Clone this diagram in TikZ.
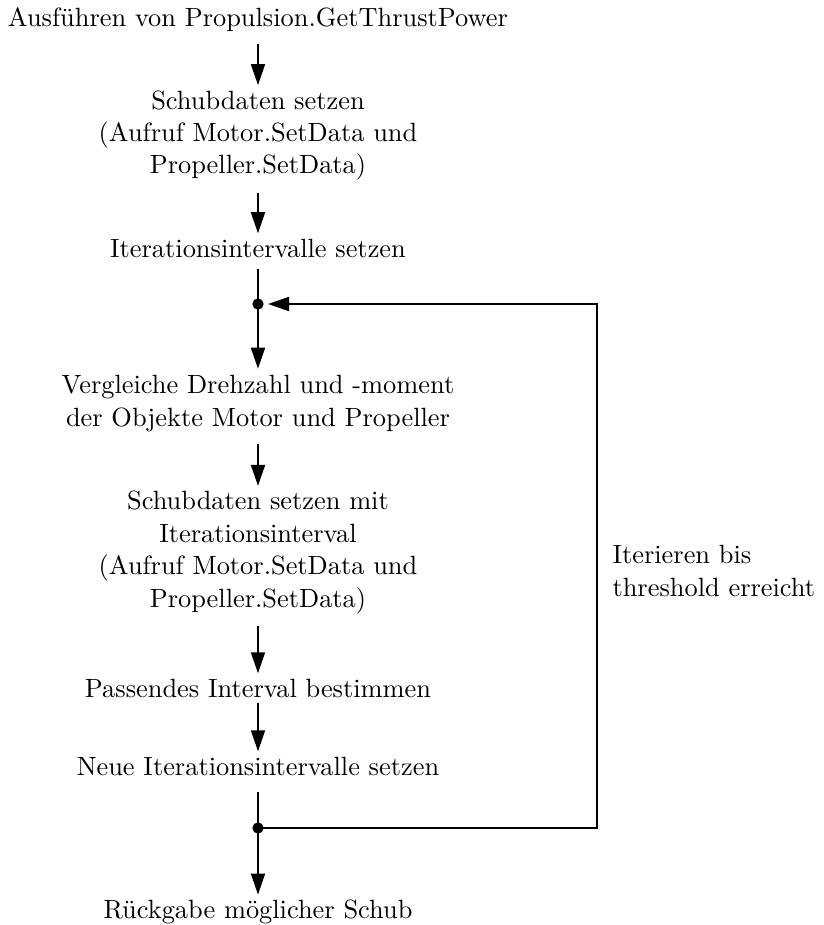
\documentclass[tikz,border=0pt]{standalone}
\usetikzlibrary{arrows.meta}
\begin{document}
\begin{tikzpicture}[x=0.37037pt,y=-0.37037pt,
  font=\fontsize{9.77pt}{12pt}\selectfont,
  stepnode/.style={align=center,inner sep=0pt,outer sep=0pt},
  flow/.style={line width=0.65pt,-{Triangle[length=7.8pt,width=5.2pt]}},
  plain/.style={line width=0.65pt},
  dot/.style={circle,fill=black,inner sep=0pt,minimum size=4.2pt}]
\useasboundingbox (0,0) rectangle (824,925);

% process steps
\node[stepnode] (n1) at (258,20) {Ausführen von Propulsion.GetThrustPower};
\node[stepnode] (n2) at (258,135.5) {Schubdaten setzen\\(Aufruf Motor.SetData und\\Propeller.SetData)};
\node[stepnode] (n3) at (258,248) {Iterationsintervalle setzen};
\node[stepnode] (n4) at (258,403.5) {Vergleiche Drehzahl und -moment\\der Objekte Motor und Propeller};
\node[stepnode] (n5) at (258,552.5) {Schubdaten setzen mit\\Iterationsinterval\\(Aufruf Motor.SetData und\\Propeller.SetData)};
\node[stepnode] (n6) at (258,688) {Passendes Interval bestimmen};
\node[stepnode] (n7) at (258,766) {Neue Iterationsintervalle setzen};
\node[stepnode] (n8) at (258,912) {Rückgabe möglicher Schub};

% loop junctions
\node[dot] (j1) at (258,304) {};
\node[dot] (j2) at (258,828) {};
\coordinate (r1) at (597,304);
\coordinate (r2) at (597,828);

\node[align=left,anchor=west,inner sep=0pt] (lbl) at (612,571) {Iterieren bis\\threshold erreicht};

% connectors
\draw[flow,shorten <=4.5pt,shorten >=2pt] (n1) -- (n2);
\draw[flow,shorten <=4.5pt,shorten >=2pt] (n2) -- (n3);
\draw[plain,shorten <=4.5pt] (n3) -- (j1.center);
\draw[flow,shorten >=2.5pt] (j1.center) -- (n4);
\draw[flow,shorten <=4.5pt,shorten >=2pt] (n4) -- (n5);
\draw[flow,shorten <=4.5pt,shorten >=2pt] (n5) -- (n6);
\draw[flow,shorten <=2pt,shorten >=2pt] (n6) -- (n7);
\draw[plain,shorten <=6pt] (n7) -- (j2.center);
\draw[flow,shorten >=2pt] (j2.center) -- (n8);
\draw[flow,shorten >=3.7pt] (j2.center) -- (r2) -- (r1) -- (j1.center);
\end{tikzpicture}
\end{document}
